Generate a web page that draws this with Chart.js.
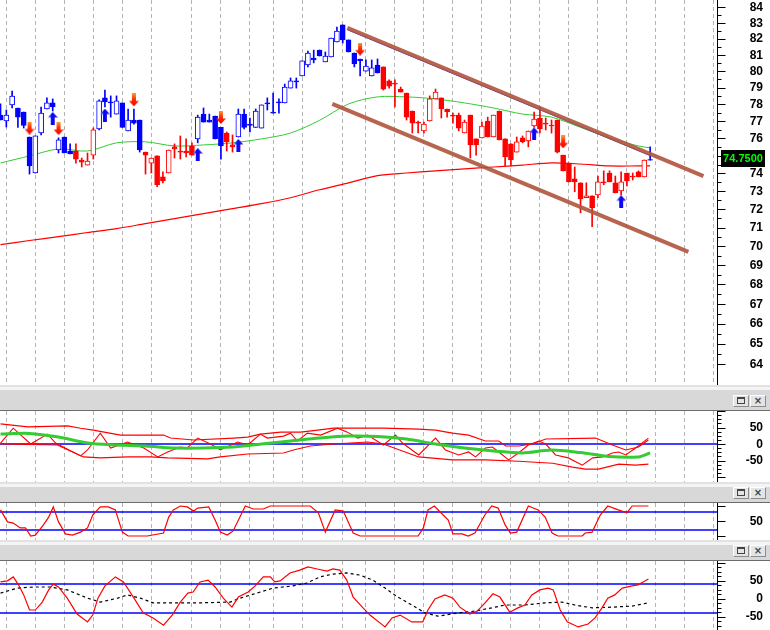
<!DOCTYPE html>
<html>
<head>
<meta charset="utf-8">
<script src="https://cdn.jsdelivr.net/npm/chart.js@4.4.1/dist/chart.umd.min.js"></script>
<style>
    html, body { margin: 0; padding: 0; background: #fff; }
    body { width: 770px; height: 630px; position: relative; overflow: hidden; }
    .pane { position: absolute; left: 0; width: 770px; }
    .hdr {
        position: absolute; left: 0; width: 770px; box-sizing: border-box;
        background: linear-gradient(to bottom, #e2e2e2 0, #e2e2e2 2px, #f4f4f4 2px, #f4f4f4 5px, #d8d8d8 5px, #d8d8d8 100%);
        border-bottom: 1px solid #6c6c6c;
    }
    .btn {
        position: absolute; bottom: 3px; width: 16px; height: 12px; box-sizing: border-box;
        background: #e4e4e4; border: 1px solid; border-color: #fff #8c8c8c #8c8c8c #fff;
        font: bold 10px "DejaVu Sans", sans-serif; color: #444; text-align: center; line-height: 10px;
    }
    .btn i { display: block; width: 6px; height: 4px; border: 1px solid #444; border-top-width: 2px; margin: 1px auto 0; }
</style>
</head>
<body>
<div class="pane" style="top:0;height:385px"><canvas id="cMain"></canvas></div>
<div class="hdr" style="top:385px;height:26px"><div class="btn" style="left:733px"><i></i></div><div class="btn" style="left:750px">×</div></div>
<div class="pane" style="top:411px;height:71px"><canvas id="cCci"></canvas></div>
<div class="hdr" style="top:482px;height:21px"><div class="btn" style="left:733px"><i></i></div><div class="btn" style="left:750px">×</div></div>
<div class="pane" style="top:503px;height:37px"><canvas id="cStoch"></canvas></div>
<div class="hdr" style="top:540px;height:21px"><div class="btn" style="left:733px"><i></i></div><div class="btn" style="left:750px">×</div></div>
<div class="pane" style="top:561px;height:69px"><canvas id="cOsc"></canvas></div>

<script>
// ---- данные ----
const weekTicks = [1, 6, 11, 16, 21, 26, 33, 38, 43, 47, 52, 59, 63, 68, 73, 78, 83, 88, 93, 98, 103, 108, 113, 118, 123];
const priceTicks = [64, 65, 66, 67, 68, 69, 70, 71, 72, 73, 74, 75, 76, 77, 78, 79, 80, 81, 82, 83, 84];

const opens = [
    77.36, 77.01, 77.96, 77.78, 77.54, 76.08, 74.02, 76.31, 77.72, 78.08,
    75.33, 76.08, 75.27, 75.27, 74.76, 74.47, 75.04, 76.55, 78.38, 78.14,
    77.42, 78.08, 76.43, 77.07, 77.07, 75.21, 74.58, 74.99, 73.80, 74.02,
    75.51, 75.27, 75.27, 75.56, 75.97, 77.42, 77.07, 77.30, 76.64, 76.31,
    75.62, 76.08, 77.42, 76.83, 76.64, 76.60, 78.08, 77.54, 78.14, 78.08,
    78.97, 79.40, 79.70, 80.37, 80.80, 81.29, 80.56, 80.86, 81.79, 82.86,
    81.92, 81.11, 80.74, 80.00, 79.70, 80.37, 80.25, 79.40, 79.27, 78.91,
    78.67, 77.60, 76.95, 76.43, 77.01, 78.32, 78.38, 77.72, 77.36, 77.36,
    76.31, 77.36, 75.97, 76.03, 77.01, 76.08, 77.60, 75.97, 75.68, 75.21,
    76.03, 75.85, 76.72, 77.19, 76.89, 76.77, 77.07, 75.04, 74.58, 73.69,
    73.47, 72.64, 72.75, 72.80, 73.52, 74.02, 73.47, 73.02, 74.02, 73.85,
    74.08, 73.80, 74.78
];
const highs = [
    78.02, 77.66, 78.79, 77.78, 77.54, 76.08, 76.14, 77.84, 78.38, 78.32,
    76.03, 76.08, 75.68, 75.68, 74.87, 75.16, 76.61, 78.26, 78.85, 78.50,
    78.50, 78.08, 77.72, 77.72, 77.07, 75.21, 74.87, 74.99, 74.08, 75.33,
    75.68, 76.14, 75.97, 75.74, 77.36, 77.78, 77.42, 77.30, 76.64, 76.37,
    76.20, 77.72, 77.72, 77.19, 77.72, 77.96, 78.38, 78.67, 78.32, 79.21,
    79.58, 79.58, 80.62, 81.23, 81.29, 81.29, 81.17, 82.04, 82.73, 82.86,
    81.92, 81.11, 80.74, 80.68, 80.68, 80.74, 80.25, 79.46, 79.46, 79.03,
    78.67, 77.60, 77.01, 76.95, 78.50, 78.91, 78.38, 77.72, 77.48, 77.48,
    77.07, 77.36, 75.97, 76.95, 77.24, 77.36, 77.60, 75.97, 75.68, 76.08,
    76.14, 76.43, 77.54, 77.84, 77.19, 77.07, 77.07, 75.04, 74.58, 74.36,
    73.47, 73.47, 72.75, 73.85, 74.14, 74.14, 73.85, 74.08, 74.02, 74.02,
    74.14, 74.76, 75.51
];
const lows = [
    77.07, 76.66, 77.78, 76.64, 76.60, 73.96, 74.02, 76.20, 77.72, 77.60,
    75.16, 75.16, 75.10, 74.58, 74.36, 74.47, 74.81, 76.49, 77.84, 77.24,
    77.42, 76.64, 76.43, 76.83, 75.21, 73.96, 74.02, 73.25, 73.47, 74.02,
    74.87, 74.81, 74.93, 75.04, 75.74, 76.95, 76.95, 75.97, 74.81, 75.27,
    75.21, 76.08, 76.55, 76.37, 76.64, 76.60, 77.66, 77.48, 77.48, 78.08,
    78.97, 78.97, 79.70, 80.25, 80.50, 80.92, 80.56, 80.86, 81.79, 81.73,
    81.17, 80.25, 79.70, 80.00, 79.70, 79.88, 78.85, 78.97, 77.84, 78.73,
    77.07, 76.31, 76.31, 76.31, 77.01, 78.32, 77.19, 77.24, 76.89, 76.43,
    76.31, 74.87, 75.04, 76.03, 76.08, 76.08, 75.91, 74.42, 74.42, 75.21,
    75.74, 75.51, 76.66, 76.31, 76.49, 76.31, 75.16, 74.14, 73.52, 72.97,
    71.81, 72.64, 71.05, 72.64, 73.36, 73.52, 72.91, 72.80, 73.30, 73.63,
    73.80, 73.80, 74.75
];
const closes = [
    77.07, 77.36, 78.49, 77.24, 76.76, 74.42, 76.14, 77.48, 78.08, 77.84,
    75.91, 75.16, 75.10, 74.81, 74.64, 74.70, 76.49, 78.20, 78.14, 78.08,
    78.20, 76.64, 77.07, 76.89, 75.33, 75.04, 74.87, 73.36, 73.58, 75.33,
    75.39, 75.21, 75.16, 75.04, 77.24, 76.95, 76.95, 75.97, 75.56, 75.80,
    75.51, 77.42, 76.64, 76.76, 77.60, 77.96, 78.02, 77.48, 78.08, 79.03,
    79.40, 79.34, 80.62, 81.11, 80.68, 80.92, 80.92, 82.04, 82.48, 81.92,
    81.17, 80.43, 80.62, 80.31, 80.19, 79.88, 78.91, 79.09, 79.21, 78.73,
    77.24, 76.89, 76.89, 76.83, 78.32, 78.73, 77.72, 77.54, 77.30, 76.60,
    76.95, 75.62, 75.62, 76.72, 76.08, 77.36, 75.91, 74.93, 74.76, 75.80,
    75.80, 76.43, 77.13, 76.55, 76.83, 76.72, 75.21, 74.14, 73.52, 73.52,
    72.58, 72.75, 72.09, 73.52, 73.47, 73.52, 72.91, 73.52, 73.58, 73.80,
    73.80, 74.76, 74.75
];
// цвет свечей по тренду: b — синий, r — красный (серии подряд)
const trendRuns = [['b', 13], ['r', 4], ['b', 8], ['r', 9], ['b', 5], ['r', 2], ['b', 25], ['r', 46], ['b', 1]];

// скользящие средние, точки [бар, цена]
const maFast = [[0, 74.59], [5, 74.99], [10, 75.39], [15, 75.27], [20, 75.74], [25, 75.80], [30, 75.56], [35, 75.62],
    [40, 75.74], [45, 75.97], [50, 76.31], [55, 77.05], [60, 78.02], [65, 78.44], [70, 78.44], [75, 78.32], [80, 78.08],
    [85, 77.78], [90, 77.42], [95, 77.24], [100, 76.64], [105, 76.03], [110, 75.56], [112, 75.45]];
const maSlow = [[0, 70.09], [5, 70.31], [10, 70.52], [15, 70.74], [20, 70.95], [25, 71.22], [30, 71.49], [35, 71.76],
    [40, 72.04], [45, 72.31], [50, 72.64], [55, 73.08], [60, 73.47], [65, 73.87], [70, 74.02], [75, 74.14], [80, 74.25],
    [85, 74.36], [90, 74.47], [95, 74.59], [100, 74.53], [105, 74.42], [110, 74.42], [112, 74.42]];

// сигналы
const upArrows = [[9, 77.16], [18, 77.36], [34, 75.07], [41, 75.59], [92, 76.26], [107, 72.42]];
const downArrows = [[5, 76.60], [10, 76.57], [23, 78.26], [38, 77.22], [62, 81.35], [97, 75.80]];

// канал
const channelUpper = [[59.8, 82.67], [121.2, 73.85]];
const channelLower = [[57.2, 78.02], [118.6, 69.70]];
const channelGuide = [[59.8, 82.56], [112, 75.01]];

// панель 2
const cciUpper = [[0, 61], [4.7, 52], [11.6, 55], [13.8, 48], [16, 42], [20.7, 27], [28.1, 27], [29.3, 18], [33.3, 12],
    [40.2, 18], [42.6, 21], [44.8, 30], [48.3, 36], [51.7, 36], [54.7, 42], [57.4, 48], [66, 48], [72.1, 45], [75, 42],
    [77.9, 33], [80.7, 27], [83.6, 9], [85.9, 9], [87.1, -6], [89.3, -6], [91.7, 0], [94, 15], [102.6, 18], [105.5, -3],
    [107.8, -18], [110, -9], [111.7, 12]];
const cciLower = [[0, 0], [9.8, -3], [14.3, -39], [17.2, -42], [21.9, -39], [25.9, -39], [28.8, -42], [35.7, -45],
    [37.9, -39], [42.6, -30], [48.8, -27], [50.5, -18], [53.4, -6], [57.4, 0], [63.3, 6], [66, 0], [72.1, -39],
    [77.9, -48], [83.6, -48], [89.3, -52], [92.2, -55], [95.2, -58], [98.6, -70], [100.9, -76], [103.1, -76],
    [106.6, -61], [109.5, -64], [111.7, -61]];
const cciLine = [[0, 3], [2.2, 48], [5.2, 0], [8.1, 30], [9.5, 3], [13.8, -36], [15, -18], [17.2, 33], [19, -12],
    [21.9, 6], [24.7, -12], [27.1, -39], [28.8, -24], [31, -9], [32.2, -12], [34, 18], [36.2, 0], [37.9, -18],
    [40.9, 6], [42.6, -3], [44.8, 30], [46, 18], [48.8, 24], [50, 33], [51.2, 9], [52.9, 33], [55.2, 27], [58.1, 48],
    [59.8, 36], [61.6, 18], [63.3, 27], [66, -3], [68.1, 27], [69.3, 3], [72.1, -33], [75, 18], [76.7, -18], [79, -33],
    [80.7, -24], [81.9, -39], [83.6, -12], [84.8, -9], [85.9, -24], [87.6, -48], [89.3, -27], [91, -3], [92.8, 9],
    [94, 0], [95.7, -33], [97.9, -42], [100.3, -64], [102.1, -42], [103.8, -39], [105.5, -27], [106.6, -24],
    [107.8, -33], [109.5, -12], [111.7, 18]];
const cciSignal = [[0, 30], [5, 32], [10, 21], [15, 3], [20, -3], [25, -6], [30, -12], [35, -12], [40, -9], [45, 0],
    [50, 9], [55, 18], [60, 24], [65, 23], [70, 15], [75, 0], [80, -12], [85, -21], [90, -27], [95, -18], [100, -26],
    [105, -38], [110, -39], [112, -27]];

// панель 3
const stochLine = [[0, 87], [1.2, 47], [2.2, 43], [3.4, 27], [4.3, 27], [5.2, 0], [6, 3], [7.4, 37], [8.3, 63],
    [9.1, 97], [10, 47], [11.2, 7], [12.4, 3], [13.8, 13], [15, 27], [15.9, 70], [17.2, 97], [18.6, 97], [19.8, 87],
    [21, 13], [22, 0], [25.3, 0], [28.1, 10], [29, 63], [29.8, 87], [31, 100], [32.2, 97], [33.3, 83], [34, 93],
    [35.9, 97], [37, 53], [37.9, 13], [39.1, 3], [40.1, 17], [42.2, 100], [43.6, 90], [45.3, 90], [46.5, 100],
    [53.4, 100], [54.8, 77], [56, 13], [57.7, 87], [59.1, 83], [60.8, 10], [62, 0], [72, 0], [72.9, 27], [73.7, 87],
    [74.8, 100], [75.8, 80], [77.2, 53], [78, 7], [79.6, 7], [80.6, 0], [81.8, 10], [83.5, 70], [84.7, 100],
    [85.8, 93], [87, 37], [87.9, 10], [89, 13], [91, 100], [92.7, 87], [93.9, 63], [95.1, 10], [96.1, 0],
    [100.3, 0], [100.8, 10], [102, 13], [103.4, 70], [104.7, 100], [106.5, 87], [108, 77], [108.9, 100], [111.7, 100]];
const stochLevels = [80, 20];

// панель 4
const oscLine = [[0, 46], [1.2, 49], [2.2, 60], [3.1, 38], [4, 10], [5, -32], [6, -32], [7.2, -10], [8.3, 24],
    [9.1, 40], [10, 32], [11.5, 1], [13.2, -43], [15, -65], [15.9, -46], [16.8, 1], [18, 35], [19.8, 60], [21.2, 46],
    [22.9, 4], [24.6, -40], [26.3, -54], [28.1, -74], [29.6, -46], [31, -10], [32.3, 15], [33.2, 18], [34.4, 46],
    [35.8, 51], [37, 32], [38.4, 1], [39.9, -24], [41, 4], [42.7, 18], [43.9, 35], [45.3, 60], [46.5, 60], [47.3, 46],
    [48.2, 49], [49.9, 71], [51.6, 79], [53, 88], [54.6, 82], [56.3, 76], [57.3, 82], [58.5, 79], [59.7, 51],
    [60.8, 4], [62.5, -26], [63.7, -46], [65.9, -74], [66.3, -79], [67.5, -54], [68.9, -46], [70.9, -65], [72.8, -65],
    [73.7, -32], [74.9, -1], [76.6, 10], [78, 1], [79.2, -24], [80.9, -43], [82.2, -35], [83.5, -13], [84.9, 13],
    [86.1, 4], [87.8, -38], [89.2, -26], [90.4, -18], [91.6, 10], [93, 24], [94.4, 29], [95.3, 24], [96.5, -32],
    [97.7, -65], [99.6, -79], [101.3, -71], [102.5, -54], [103.7, -26], [104.7, 1], [105.9, 10], [107.2, 29],
    [108.9, 35], [109.9, 38], [110.8, 46], [111.7, 54]];
const oscSignal = [[0, 15], [2.9, 29], [5.7, 32], [8.6, 32], [11.5, 24], [15, 1], [17.2, -10], [20.2, 1], [21.9, 10],
    [24.1, 1], [26.3, -12], [29.8, -12], [34.4, -12], [39.6, -10], [41.3, 1], [44.8, 18], [47, 29], [50.4, 35],
    [52.8, 43], [55.1, 60], [57.3, 68], [59.7, 71], [62, 65], [64.2, 51], [66.3, 29], [68.5, 4], [70.9, -18],
    [73.2, -40], [75.4, -49], [78.9, -40], [81.8, -35], [84.7, -26], [87, -18], [90.4, -18], [93.9, -12], [96.8, -10],
    [99, -18], [102, -26], [105.4, -24], [108.9, -21], [111.7, -12]];
const oscLevels = [40, -40];

// ---- оформление ----
const X_MIN = -0.09, X_MAX = 123.53;
const BLUE = '#0000ff', RED = '#ff0000';
const AXIS_FONT = 'bold 12px "Liberation Sans", Arial, sans-serif';

const pts = (arr) => arr.map(([x, y]) => ({ x, y }));
const hline = (v) => [{ x: X_MIN - 1, y: v }, { x: X_MAX + 1, y: v }];

const trend = [];
trendRuns.forEach(([c, n]) => { for (let k = 0; k < n; k++) trend.push(c === 'b' ? BLUE : RED); });

// Правая шкала: засечки и подписи рисуем сами, чтобы выровнять по правому краю
function axisPlugin(cfg) {
    return {
        id: 'rightAxis',
        afterDraw(chart) {
            const { ctx, chartArea } = chart;
            const ys = chart.scales.y;
            const x0 = chartArea.right + 0.5;
            const inside = (y) => y >= 0 && y <= chart.height;
            ctx.save();
            ctx.strokeStyle = '#000';
            ctx.lineWidth = 1;
            ctx.beginPath();
            cfg.minor.forEach((v) => {
                const y = Math.round(ys.getPixelForValue(v)) + 0.5;
                if (inside(y)) { ctx.moveTo(x0, y); ctx.lineTo(x0 + 4, y); }
            });
            cfg.major.forEach((v) => {
                const y = Math.round(ys.getPixelForValue(v)) + 0.5;
                if (inside(y)) { ctx.moveTo(x0, y); ctx.lineTo(x0 + 8, y); }
            });
            ctx.stroke();
            ctx.font = AXIS_FONT;
            ctx.fillStyle = '#000';
            ctx.textAlign = 'right';
            ctx.textBaseline = 'middle';
            cfg.labels.forEach((v) => ctx.fillText(String(v), 763, ys.getPixelForValue(v) + 0.5));
            if (cfg.last != null) {
                const y = Math.round(ys.getPixelForValue(cfg.last)) - 2;
                ctx.fillStyle = '#000';
                ctx.fillRect(721, y - 8, 44, 17);
                ctx.fillStyle = '#00ff00';
                ctx.font = 'bold 11px "Liberation Sans", Arial, sans-serif';
                ctx.textAlign = 'center';
                ctx.fillText(cfg.last.toFixed(4), 743, y + 1);
            }
            ctx.restore();
        },
    };
}

function scalesFor(y) {
    return {
        x: {
            type: 'linear', min: X_MIN, max: X_MAX, offset: false,
            ticks: { display: false },
            grid: { color: '#b4b4b4', lineWidth: 1, drawTicks: false, offset: false },
            border: { display: false, dash: [4, 3] },
            afterBuildTicks: (s) => { s.ticks = weekTicks.map((v) => ({ value: v })); },
            afterFit: (s) => { s.height = 0; },
        },
        y: Object.assign({
            position: 'right',
            grid: { display: false, drawTicks: false },
            ticks: { display: false },
            border: { display: true, color: '#000', width: 1 },
            afterFit: (s) => { s.width = 53; },
        }, y),
    };
}

function baseOptions(y) {
    return {
        responsive: true,
        maintainAspectRatio: false,
        animation: false,
        devicePixelRatio: 1,
        layout: { padding: 0, autoPadding: false },
        plugins: { legend: { display: false }, tooltip: { enabled: false } },
        elements: { point: { radius: 0 }, line: { tension: 0 } },
        scales: scalesFor(y),
    };
}

function arrowImage(up) {
    const c = document.createElement('canvas');
    c.width = 10; c.height = 13;
    const g = c.getContext('2d');
    const grad = up ? g.createLinearGradient(0, 0, 10, 0) : g.createLinearGradient(0, 0, 0, 13);
    if (up) {
        grad.addColorStop(0, '#7fb8ff'); grad.addColorStop(0.4, '#0000ff'); grad.addColorStop(1, '#4020d0');
    } else {
        grad.addColorStop(0, '#ff9a30'); grad.addColorStop(0.45, '#ff2a00'); grad.addColorStop(1, '#f00000');
    }
    g.fillStyle = grad;
    g.beginPath();
    if (up) {
        g.moveTo(5, 0); g.lineTo(10, 5.5); g.lineTo(7, 5.5); g.lineTo(7, 13);
        g.lineTo(3, 13); g.lineTo(3, 5.5); g.lineTo(0, 5.5);
    } else {
        g.moveTo(3, 0); g.lineTo(7, 0); g.lineTo(7, 7.5); g.lineTo(10, 7.5);
        g.lineTo(5, 13); g.lineTo(0, 7.5); g.lineTo(3, 7.5);
    }
    g.closePath();
    g.fill();
    return c;
}

function lineDs(data, color, width, order, extra) {
    return Object.assign({
        type: 'line', data: pts(data), borderColor: color, borderWidth: width,
        pointRadius: 0, fill: false, order,
    }, extra || {});
}

// ---- основной график: свечи ----
const bodies = opens.map((o, i) => ({ x: i, y: [o, closes[i]] }));
const wicks = lows.map((l, i) => ({ x: i, y: [l, highs[i]] }));
const halfTicks = priceTicks.map((v) => v + 0.5);

new Chart(document.getElementById('cMain'), {
    type: 'bar',
    data: {
        datasets: [
            { type: 'line', data: pts(downArrows), pointStyle: arrowImage(false), pointRadius: 6, showLine: false, order: 0 },
            { type: 'line', data: pts(upArrows), pointStyle: arrowImage(true), pointRadius: 6, showLine: false, order: 0 },
            lineDs(channelUpper, 'rgba(176, 84, 60, 0.9)', 4, 1),
            lineDs(channelLower, 'rgba(176, 84, 60, 0.9)', 4, 1),
            lineDs(channelGuide, '#2a2aff', 1, 2),
            {
                type: 'bar', data: bodies, order: 3, grouped: false,
                barThickness: 5, borderWidth: 1, borderSkipped: false,
                backgroundColor: (ctx) => (closes[ctx.dataIndex] > opens[ctx.dataIndex] ? '#ffffff' : trend[ctx.dataIndex]),
                borderColor: (ctx) => trend[ctx.dataIndex],
            },
            {
                type: 'bar', data: wicks, order: 4, grouped: false,
                barThickness: 1, borderWidth: 0,
                backgroundColor: (ctx) => trend[ctx.dataIndex],
            },
            lineDs(maFast, '#33cc33', 1, 5, { tension: 0.3 }),
            lineDs(maSlow, '#ff0000', 1.2, 6, { tension: 0.3 }),
        ],
    },
    options: baseOptions({ type: 'logarithmic', min: 62.98, max: 84.45 }),
    plugins: [axisPlugin({ major: priceTicks, minor: halfTicks, labels: priceTicks, last: closes[closes.length - 1] })],
});

// минорные засечки нижних панелей (шаг 12.5)
const minorSteps = [];
for (let v = -100; v <= 100; v += 12.5) if (v % 50 !== 0) minorSteps.push(v);

// ---- панель 2 ----
new Chart(document.getElementById('cCci'), {
    type: 'line',
    data: {
        datasets: [
            lineDs(cciSignal, '#33cc33', 3, 0, { tension: 0.3 }),
            lineDs(cciLine, RED, 1.1, 1),
            lineDs(cciUpper, RED, 1.1, 2),
            lineDs(cciLower, RED, 1.1, 2),
            { type: 'line', data: hline(0), borderColor: BLUE, borderWidth: 1.5, pointRadius: 0, order: 3 },
        ],
    },
    options: baseOptions({ type: 'linear', min: -115, max: 100 }),
    plugins: [axisPlugin({ major: [100, 50, 0, -50, -100], minor: minorSteps, labels: [50, 0, -50] })],
});

// ---- панель 3 ----
new Chart(document.getElementById('cStoch'), {
    type: 'line',
    data: {
        datasets: [
            lineDs(stochLine, RED, 1.2, 0),
            ...stochLevels.map((v) => ({ type: 'line', data: hline(v), borderColor: BLUE, borderWidth: 1.5, pointRadius: 0, order: 1 })),
        ],
    },
    options: baseOptions({ type: 'linear', min: -13.3, max: 110 }),
    plugins: [axisPlugin({ major: [0, 50, 100], minor: [], labels: [50] })],
});

// ---- панель 4 ----
new Chart(document.getElementById('cOsc'), {
    type: 'line',
    data: {
        datasets: [
            lineDs(oscLine, RED, 1.2, 0),
            lineDs(oscSignal, '#000000', 1.2, 1, { borderDash: [3, 3] }),
            ...oscLevels.map((v) => ({ type: 'line', data: hline(v), borderColor: BLUE, borderWidth: 1.5, pointRadius: 0, order: 2 })),
        ],
    },
    options: baseOptions({ type: 'linear', min: -87.5, max: 104.2 }),
    plugins: [axisPlugin({ major: [100, 50, 0, -50], minor: minorSteps, labels: [50, 0, -50] })],
});
</script>
</body>
</html>
